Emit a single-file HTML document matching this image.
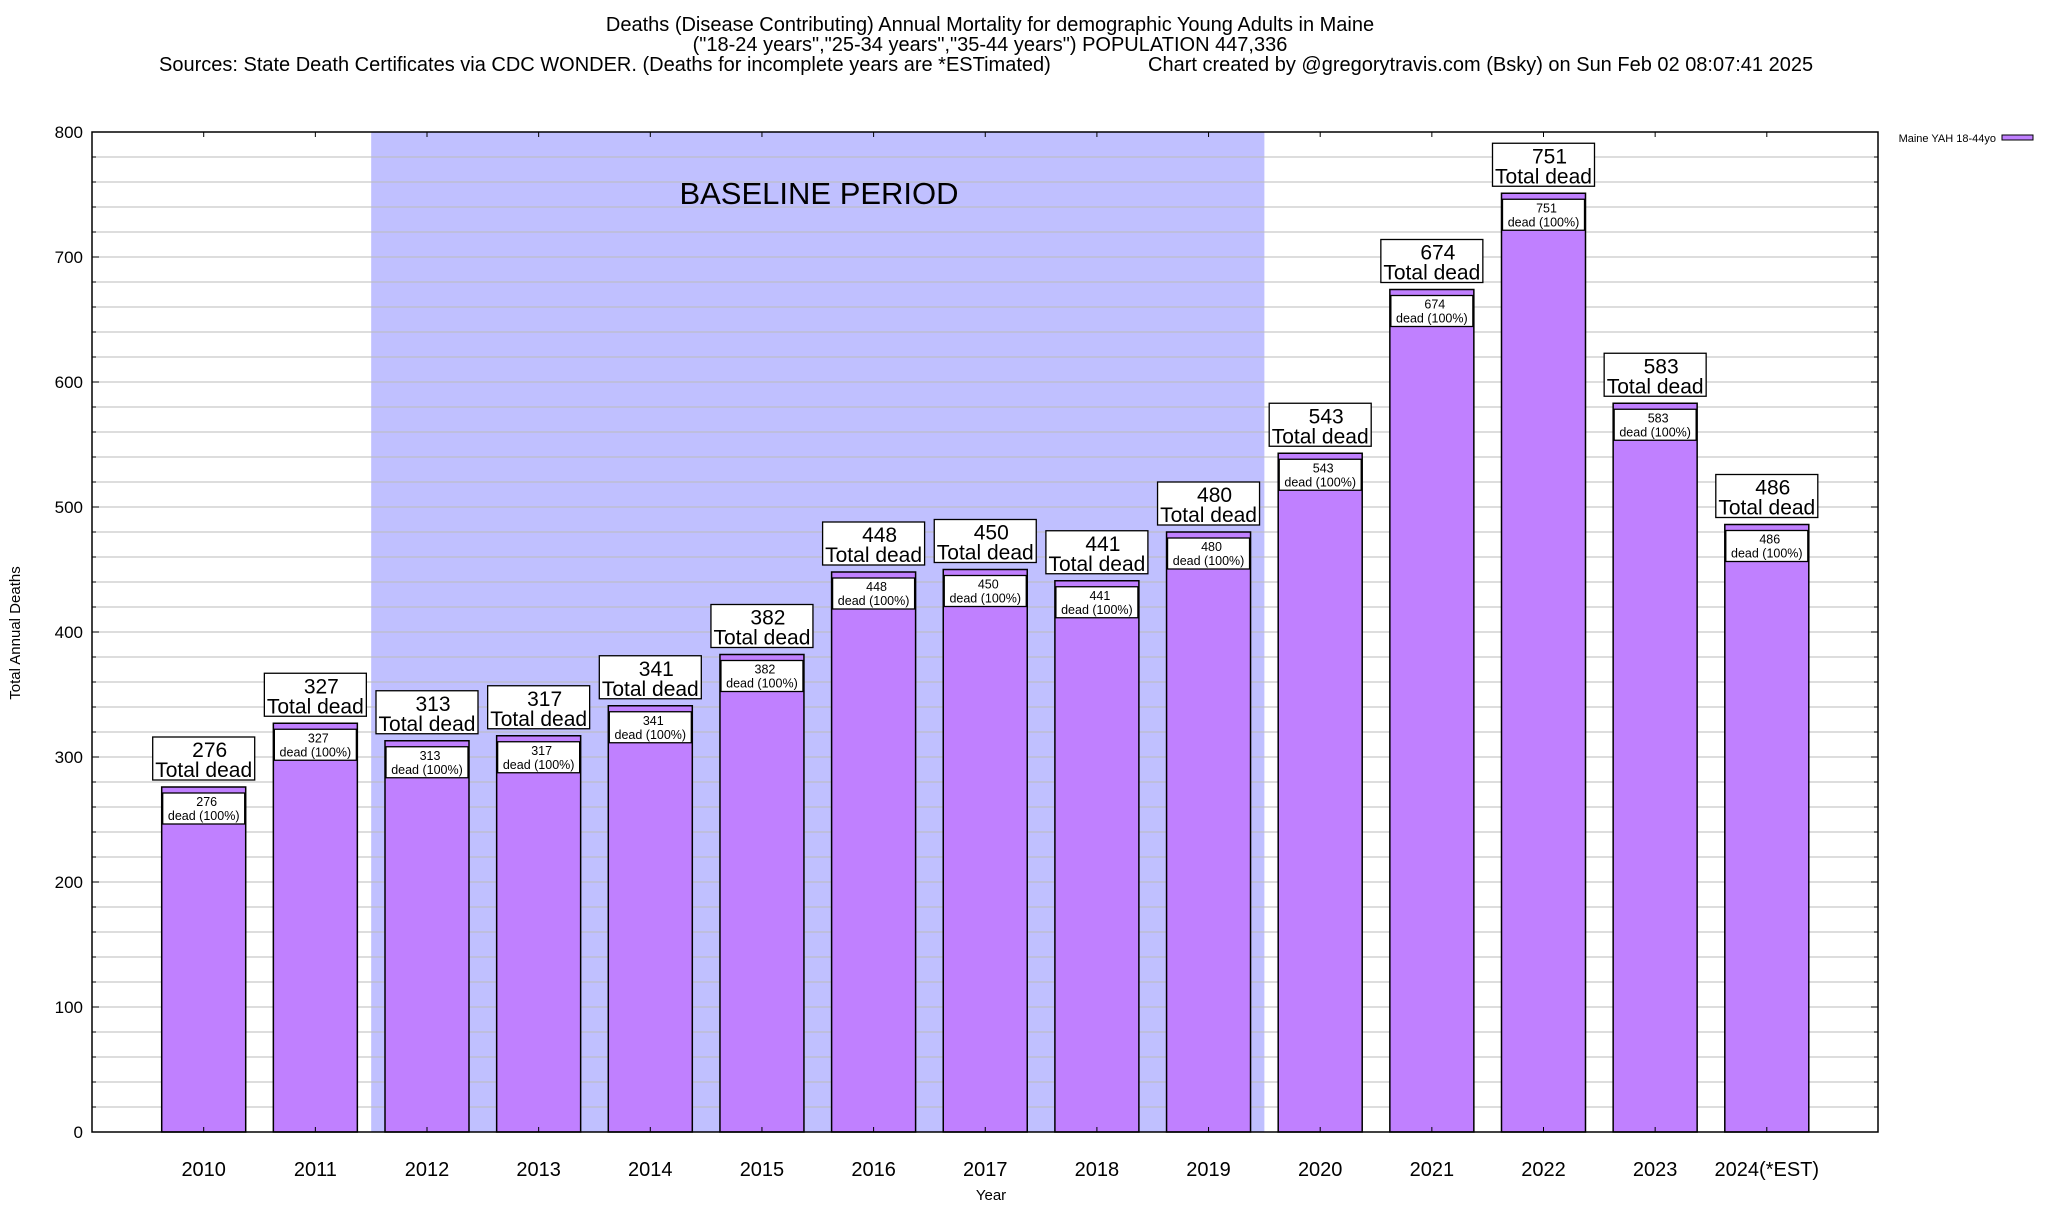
<!DOCTYPE html>
<html><head><meta charset="utf-8"><style>
html,body{margin:0;padding:0;background:#fff;}
body{width:2048px;height:1200px;overflow:hidden;font-family:"Liberation Sans",sans-serif;}
</style></head><body>
<svg id="chart" width="2048" height="1200" xmlns="http://www.w3.org/2000/svg" font-family="Liberation Sans, sans-serif">
<g font-size="20" fill="#000">
<text x="990" y="31" text-anchor="middle">Deaths (Disease Contributing) Annual Mortality for demographic Young Adults in Maine</text>
<text x="990" y="51" text-anchor="middle">("18-24 years","25-34 years","35-44 years") POPULATION 447,336</text>
<text x="159" y="71">Sources: State Death Certificates via CDC WONDER. (Deaths for incomplete years are *ESTimated)</text>
<text x="1148" y="71">Chart created by @gregorytravis.com (Bsky) on Sun Feb 02 08:07:41 2025</text>
</g>
<g id="plot"></g>
</svg>
<script>
const categories=["2010","2011","2012","2013","2014","2015","2016","2017","2018","2019","2020","2021","2022","2023","2024(*EST)"];
const deaths=[276,327,313,317,341,382,448,450,441,480,543,674,751,583,486];
const yTicks=[0,100,200,300,400,500,600,700,800];
const baselineRange=[1.5,9.5];
const NS="http://www.w3.org/2000/svg";
const L=92,R=1878,T=132,B=1132;
const xScale=i=>203.7+i*111.65;
const yScale=v=>B-(v/800)*(B-T);
const g=document.getElementById('plot');
function el(tag,attrs,parent){const e=document.createElementNS(NS,tag);for(const k in attrs)e.setAttribute(k,attrs[k]);(parent||g).appendChild(e);return e;}
function txt(x,y,s,attrs,parent){const t=el('text',Object.assign({x:x,y:y},attrs),parent);t.textContent=s;return t;}
const sh=el('rect',{x:xScale(baselineRange[0]),y:T,width:xScale(baselineRange[1])-xScale(baselineRange[0]),height:B-T,fill:'#c0c0ff'});


for(let v=20;v<800;v+=20){
 const ln=el('line',{x1:L,x2:R,y1:yScale(v),y2:yScale(v),stroke:'#bbbbbb','stroke-width':1});
 
 
 const isMajor=v%100===0;
 el('line',{x1:L,x2:L+(isMajor?7:4),y1:yScale(v),y2:yScale(v),stroke:'#000'});
 el('line',{x1:R,x2:R-(isMajor?7:4),y1:yScale(v),y2:yScale(v),stroke:'#000'});
}
const bl=txt(819,204,'BASELINE PERIOD',{'font-size':31,'text-anchor':'middle'});


yTicks.forEach(v=>{
 const t=txt(83,yScale(v)+6,String(v),{'font-size':17,'text-anchor':'end'});
 
 
});
categories.forEach((c,i)=>{
 const v=deaths[i],cx=xScale(i),top=yScale(v);
 const bar=el('rect',{x:cx-42,y:top,width:84,height:B-top,fill:'#c080ff',stroke:'#000','stroke-width':1.5});
 
 
 el('line',{x1:cx,x2:cx,y1:T,y2:T+5,stroke:'#000'});
 el('line',{x1:cx,x2:cx,y1:B,y2:B-5,stroke:'#000'});
 const ib=el('rect',{x:cx-41,y:top+6,width:82,height:31,fill:'#fff',stroke:'#000','stroke-width':1.3});
 
 
 txt(cx+3,top+19,String(v),{'font-size':12.5,'text-anchor':'middle'});
 txt(cx,top+33,'dead (100%)',{'font-size':12.5,'text-anchor':'middle'});
 const ob=el('rect',{x:cx-51,y:top-50,width:102,height:43,fill:'#fff',stroke:'#000','stroke-width':1.3});
 
 
 txt(cx+6,top-30,String(v),{'font-size':21,'text-anchor':'middle'});
 txt(cx,top-10,'Total dead',{'font-size':21,'text-anchor':'middle'});
 const xl=txt(cx,1176,c,{'font-size':20,'text-anchor':'middle'});
 
 
});
const fr=el('rect',{x:L,y:T,width:R-L,height:B-T,fill:'none',stroke:'#000','stroke-width':1.5});


const yt=txt(0,0,'Total Annual Deaths',{'font-size':15,'text-anchor':'middle',transform:'translate(20,633) rotate(-90)'});


const xt=txt(991,1200,'Year',{'font-size':15,'text-anchor':'middle'});


const lg=el('g',{});


txt(1996,142,'Maine YAH 18-44yo',{'font-size':11,'text-anchor':'end'},lg);
el('rect',{x:2002,y:135,width:31,height:5,fill:'#c080ff',stroke:'#000','stroke-width':1},lg);
</script>
</body></html>
